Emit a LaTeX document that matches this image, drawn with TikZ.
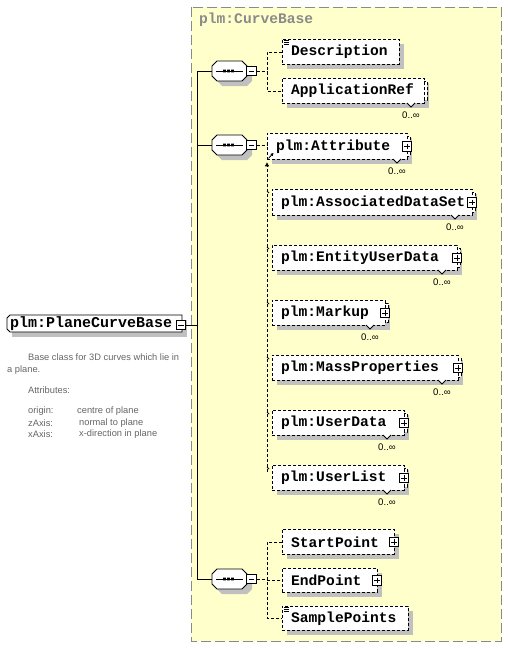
\documentclass[tikz,border=0pt]{standalone}
\usepackage{fontspec}
\setmainfont{Liberation Sans}
\setmonofont{Liberation Mono}
\usetikzlibrary{arrows.meta,calc}
\definecolor{yel}{HTML}{FFFFCC}
\definecolor{shc}{HTML}{C0C0C0}
\definecolor{bordg}{HTML}{8A8A8A}
\definecolor{docg}{HTML}{666666}
\tikzset{
  ebox/.style={draw, dash pattern=on 3pt off 2pt, line width=0.9pt, fill=white, anchor=north west, inner sep=0pt},
  etext/.style={anchor=west, inner sep=0pt, font=\fontsize{14.6}{16}\selectfont\ttfamily\bfseries},
  occ/.style={inner sep=0pt, font=\fontsize{9.6}{10}\selectfont},
  pmbox/.style={draw, solid, line width=0.8pt, fill=white, minimum size=9.5pt, inner sep=0pt},
  plusbox/.style={pmbox, path picture={\draw[line width=0.8pt] ([xshift=2pt]path picture bounding box.west) -- ([xshift=-2pt]path picture bounding box.east) ([yshift=-2pt]path picture bounding box.north) -- ([yshift=2pt]path picture bounding box.south);}},
  minusbox/.style={pmbox, path picture={\draw[line width=0.8pt] ([xshift=2pt]path picture bounding box.west) -- ([xshift=-2pt]path picture bounding box.east);}},
  conn/.style={dash pattern=on 3pt off 2pt, line width=0.9pt},
  solidconn/.style={line width=0.9pt},
  doc/.style={anchor=west, inner sep=0pt, text=docg, font=\fontsize{9.3}{10}\selectfont},
}
% single element: name, x1, y1, x2, y2, text
\newcommand\elemS[6]{%
  \fill[shc] (#2+5,#3+5) rectangle (#4+5,#5+5);
  \node[ebox, minimum width={#4-#2}, minimum height={#5-#3}] (#1) at (#2,#3) {};
  \node[etext] (#1-t) at ([xshift=9pt]#1.west) {#6};
}
% multiple element: name, x1, y1, x2, y2 (front box), text, x of occurrence label
\newcommand\elemM[7]{%
  \fill[shc] (#2+5,#3+5) rectangle (#4+5,#5+5);
  \draw[dash pattern=on 3pt off 2pt, line width=0.9pt, fill=white] (#2+4,#3+3) rectangle (#4+3,#5-3);
  \node[ebox, minimum width={#4-#2}, minimum height={#5-#3}] (#1) at (#2,#3) {};
  \node[etext] (#1-t) at ([xshift=9pt]#1.west) {#6};
  \draw[line width=0.8pt, fill=white] (#7-4,#5) -- (#7,#5+4) -- (#7+4,#5);
  \node[occ] (#1-o) at (#7,#5+12.5) {0..∞};
}
% sequence compositor: name, left x, centre y
\newcommand\seqc[3]{%
  \begin{scope}[shift={(#2,#3)}]
    \fill[shc] (10,-5) -- (35,-5) -- (40,0) -- (40,10) -- (35,15) -- (10,15) -- (5,10) -- (5,0) -- cycle;
    \draw[line width=0.9pt, fill=white] (5,-10) -- (30,-10) -- (35,-5) -- (35,5) -- (30,10) -- (5,10) -- (0,5) -- (0,-5) -- cycle;
    \draw[line width=0.9pt] (4,0) -- (31,0);
    \fill (11,-1.4) rectangle +(2.8,2.8) (15,-1.4) rectangle +(2.8,2.8) (19,-1.4) rectangle +(2.8,2.8);
    \node[inner sep=0pt, minimum width=35pt, minimum height=20pt, anchor=west] (#1) at (0,0) {};
    \node[minusbox] (#1-m) at (39.5,0) {};
  \end{scope}
}
\newcommand\eqicon[1]{%
  \draw[line width=0.7pt] ($(#1.north west)+(2,1.5)$) -- +(5,0) ($(#1.north west)+(2,3.5)$) -- +(5,0) ($(#1.north west)+(2,5.5)$) -- +(5,0);
}
\begin{document}
\begin{tikzpicture}[x=1pt,y=-1pt]
\useasboundingbox (0,0) rectangle (507,648);
\fill[white] (0,0) rectangle (507,648);

% container of the base type
\draw[bordg, dash pattern=on 10pt off 4pt, line width=1pt, fill=yel] (191,7) rectangle (501,641);
\node[anchor=west, inner sep=0pt, text=bordg, font=\fontsize{14.6}{16}\selectfont\ttfamily\bfseries] (cb) at (199,20) {plm:CurveBase};

% main element
\fill[shc] (12,320) rectangle (187,337);
\draw[line width=0.9pt, fill=white] (10,315) -- (182,315) -- (182,332) -- (10,332) -- (7,329) -- (7,318) -- cycle;
\node[inner sep=0pt, minimum width=175pt, minimum height=17pt, anchor=north west] (main) at (7,315) {};
\node[etext, font=\fontsize{15}{16}\selectfont\ttfamily\bfseries] (main-t) at (10,323.5) {plm:PlaneCurveBase};
\node[minusbox] (main-m) at (181,325) {};

% documentation
\node[doc] (d1) at (28,357) {Base class for 3D curves which lie in};
\node[doc] (d2) at (7,370) {a plane.};
\node[doc] (d3) at (28,390) {Attributes:};
\node[doc] (d4) at (28,411.5) {origin:};
\node[doc] (d4b) at (77,411.5) {centre of plane};
\node[doc] (d5) at (28,423) {zAxis:};
\node[doc] (d5b) at (79,423) {normal to plane};
\node[doc] (d6) at (28,434.5) {xAxis:};
\node[doc] (d6b) at (79,434.5) {x-direction in plane};

% compositors
\seqc{seqa}{212}{71}
\seqc{seqb}{212}{145}
\seqc{seqc}{212}{579}

\coordinate (vtop) at (197,71);
\coordinate (vbot) at (197,579);
\draw[solidconn] (main-m.east) -- (main-m.east -| vtop);
\draw[solidconn] (vtop) -- (vbot);
\draw[solidconn] (vtop) -- (seqa.west);
\draw[solidconn] (seqb.west -| vtop) -- (seqb.west);
\draw[solidconn] (vbot) -- (seqc.west);

% group 1
\elemS{desc}{282}{39}{399}{64}{Description}
\eqicon{desc}
\elemM{appref}{282}{78}{424}{103}{ApplicationRef}{411}
\coordinate (ga) at (267,71);
\draw[conn] (seqa-m.east) -- (ga);
\draw[conn] (desc.west) -- (desc.west -| ga) -- (appref.west -| ga) -- (appref.west);

% group 2
\elemM{attr}{267}{133}{407}{159}{plm:Attribute}{397}
\node[plusbox] (attr-p) at ($(attr.east)+(-1,0)$) {};
\draw[line width=0.8pt, -{Triangle[length=3pt,width=3pt]}] ($(attr.south west)+(1.5,-1.5)$) -- ($(attr.south west)+(6.5,-7)$);
\draw[conn] (seqb-m.east) -- (attr.west |- seqb-m.east);

\elemM{ads}{272}{189}{472}{215}{plm:AssociatedDataSet}{455}
\node[plusbox] (ads-p) at ($(ads.east)+(-1,0)$) {};
\elemM{eud}{272}{245}{457}{270}{plm:EntityUserData}{442}
\node[plusbox] (eud-p) at ($(eud.east)+(-1,0)$) {};
\elemM{markup}{272}{300}{385}{325}{plm:Markup}{370}
\node[plusbox] (markup-p) at ($(markup.east)+(-1,0)$) {};
\elemM{mass}{272}{355}{458}{380}{plm:MassProperties}{442}
\node[plusbox] (mass-p) at ($(mass.east)+(-1,0)$) {};
\elemM{udata}{272}{410}{404}{435}{plm:UserData}{387}
\node[plusbox] (udata-p) at ($(udata.east)+(-1,0)$) {};
\elemM{ulist}{272}{465}{404}{490}{plm:UserList}{387}
\node[plusbox] (ulist-p) at ($(ulist.east)+(-1,0)$) {};

\coordinate (stop) at ($(attr.south west)+(0,2.5)$);
\coordinate (sbot) at ($(ulist.north west)+(-5,7)$);
\draw[conn, -{Triangle[length=4pt,width=4pt]}] (sbot) -- (stop);
\foreach \m in {ads,eud,markup,mass,udata,ulist}{
  \draw[conn] ($(\m.north west)+(-5,2)$) -- ($(\m.north west)+(-2,5)$);
}

% group 3
\elemS{startp}{282}{529}{394}{554}{StartPoint}
\node[plusbox] (startp-p) at ($(startp.east)+(-1,0)$) {};
\elemS{endp}{282}{568}{377}{592}{EndPoint}
\node[plusbox] (endp-p) at ($(endp.east)+(-1,0)$) {};
\elemS{samp}{282}{606}{408}{630}{SamplePoints}
\eqicon{samp}
\coordinate (gc) at (267,579);
\draw[conn] (seqc-m.east) -- (gc);
\draw[conn] (startp.west) -- (startp.west -| gc) -- (samp.west -| gc) -- (samp.west);
\draw[conn] (endp.west -| gc) -- (endp.west);
\end{tikzpicture}
\end{document}
